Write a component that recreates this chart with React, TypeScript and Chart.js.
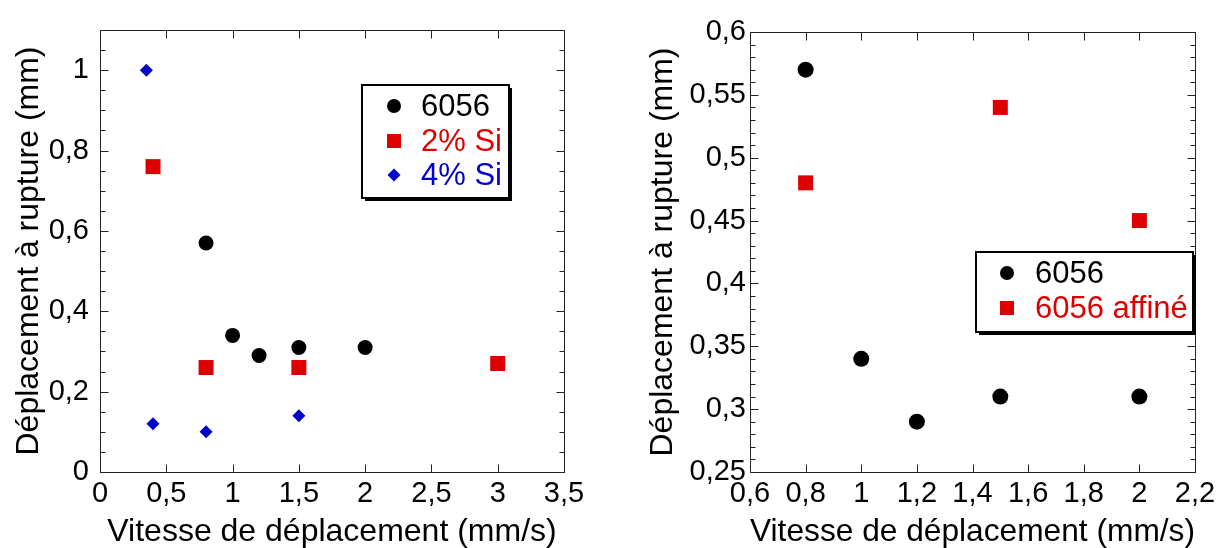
import React, { useEffect, useRef } from 'react';
import { Chart, registerables } from 'chart.js';

Chart.register(...registerables);

const FONT = "'Liberation Sans', Arial, Helvetica, sans-serif";
const RED = '#dd0000';
const BLUE = '#0000cc';
const BLACK = '#000000';
const AXIS = '#222222';

// ---------- Left chart data ----------
const left6056X = [0.8, 1, 1.2, 1.5, 2];
const left6056Y = [0.57, 0.34, 0.29, 0.31, 0.31];
const left2SiX = [0.4, 0.8, 1.5, 3];
const left2SiY = [0.76, 0.26, 0.26, 0.27];
const left4SiX = [0.35, 0.4, 0.8, 1.5];
const left4SiY = [1.0, 0.12, 0.1, 0.14];
const leftXTicks = [0, 0.5, 1, 1.5, 2, 2.5, 3, 3.5];
const leftYTicks = [0, 0.2, 0.4, 0.6, 0.8, 1];

// ---------- Right chart data ----------
const right6056X = [0.8, 1, 1.2, 1.5, 2];
const right6056Y = [0.57, 0.34, 0.29, 0.31, 0.31];
const rightAffineX = [0.8, 1.5, 2];
const rightAffineY = [0.48, 0.54, 0.45];
const rightXTicks = [0.6, 0.8, 1, 1.2, 1.4, 1.6, 1.8, 2, 2.2];
const rightYTicks = [0.25, 0.3, 0.35, 0.4, 0.45, 0.5, 0.55, 0.6];

const X_TITLE = 'Vitesse de déplacement (mm/s)';
const Y_TITLE = 'Déplacement à rupture (mm)';

const zip = (xs: number[], ys: number[]) => xs.map((x, i) => ({ x, y: ys[i] }));
const fmt = (v: number) => String(Math.round(v * 1000) / 1000).replace('.', ',');

// Frame + inward ticks (major and minor) on all four sides
const frameTicks = {
  id: 'frameTicks',
  afterDatasetsDraw(chart: any, _args: any, opts: any) {
    const { ctx, chartArea } = chart;
    const { left, right, top, bottom } = chartArea;
    const xs = chart.scales.x;
    const ys = chart.scales.y;
    ctx.save();
    ctx.strokeStyle = AXIS;
    ctx.lineWidth = 1;
    const L = Math.round(left) + 0.5;
    const R = Math.round(right) + 0.5;
    const T = Math.round(top) + 0.5;
    const B = Math.round(bottom) + 0.5;
    ctx.beginPath();
    ctx.rect(L, T, R - L, B - T);
    ctx.stroke();

    const majorLen = 8;
    const minorLen = 5;
    const drawAxisTicks = (scale: any, horizontal: boolean, minorStep: number) => {
      const majors: number[] = scale.ticks.map((t: any) => t.value);
      const values: { v: number; major: boolean }[] = majors.map((v) => ({ v, major: true }));
      if (minorStep > 0) {
        const n = Math.round((scale.max - scale.min) / minorStep);
        for (let i = 0; i <= n; i++) {
          const v = scale.min + i * minorStep;
          if (!majors.some((m) => Math.abs(m - v) < minorStep / 10)) values.push({ v, major: false });
        }
      }
      ctx.beginPath();
      values.forEach(({ v, major }) => {
        const p = Math.round(scale.getPixelForValue(v)) + 0.5;
        const len = major ? majorLen : minorLen;
        if (horizontal) {
          ctx.moveTo(p, B);
          ctx.lineTo(p, B - len);
          ctx.moveTo(p, T);
          ctx.lineTo(p, T + len);
        } else {
          ctx.moveTo(L, p);
          ctx.lineTo(L + len, p);
          ctx.moveTo(R, p);
          ctx.lineTo(R - len, p);
        }
      });
      ctx.stroke();
    };
    drawAxisTicks(xs, true, opts.xMinorStep || 0);
    drawAxisTicks(ys, false, opts.yMinorStep || 0);
    ctx.restore();
  },
};

// Boxed legend with drop shadow, placed inside the plot
const boxLegend = {
  id: 'boxLegend',
  afterDraw(chart: any, _args: any, opts: any) {
    const { ctx } = chart;
    const { x, y, w, h, rows, markerX, textX, fontSize } = opts;
    ctx.save();
    ctx.fillStyle = '#000';
    ctx.fillRect(x + 3, y + 3, w, h);
    ctx.fillStyle = '#fff';
    ctx.fillRect(x, y, w, h);
    ctx.strokeStyle = '#000';
    ctx.lineWidth = 2;
    ctx.strokeRect(x, y, w, h);
    chart.data.datasets.forEach((ds: any, i: number) => {
      const cy = rows[i];
      ctx.fillStyle = ds.backgroundColor;
      ctx.beginPath();
      if (ds.pointStyle === 'circle') {
        ctx.arc(markerX, cy, 7, 0, Math.PI * 2);
      } else if (ds.pointStyle === 'rect') {
        ctx.rect(markerX - 7, cy - 7, 14, 14);
      } else {
        ctx.moveTo(markerX - 6.5, cy);
        ctx.lineTo(markerX, cy - 6.5);
        ctx.lineTo(markerX + 6.5, cy);
        ctx.lineTo(markerX, cy + 6.5);
        ctx.closePath();
      }
      ctx.fill();
      ctx.font = `${fontSize}px ${FONT}`;
      ctx.textBaseline = 'middle';
      ctx.textAlign = 'left';
      ctx.fillText(ds.label, textX, cy + 1);
    });
    ctx.restore();
  },
};

const tickFont = { family: FONT, size: 29 };
const titleFont = { family: FONT, size: 32, lineHeight: 1 };

function makeScales(o: {
  xMin: number; xMax: number; yMin: number; yMax: number;
  xTicks: number[]; yTicks: number[]; yWidth: number; yPad: number; yTitlePad: number;
}) {
  return {
    x: {
      type: 'linear',
      min: o.xMin,
      max: o.xMax,
      afterBuildTicks: (s: any) => { s.ticks = o.xTicks.map((v) => ({ value: v })); },
      afterFit: (s: any) => { s.height = 76; },
      grid: { display: false, drawTicks: false },
      border: { display: false },
      ticks: { font: tickFont, color: '#000', padding: 5, maxRotation: 0, autoSkip: false, callback: (v: any) => fmt(Number(v)) },
      title: { display: true, text: X_TITLE, font: titleFont, color: '#000', padding: { top: 0, bottom: 0 } },
    },
    y: {
      type: 'linear',
      min: o.yMin,
      max: o.yMax,
      afterBuildTicks: (s: any) => { s.ticks = o.yTicks.map((v) => ({ value: v })); },
      afterFit: (s: any) => { s.width = o.yWidth; },
      grid: { display: false, drawTicks: false },
      border: { display: false },
      ticks: { font: tickFont, color: '#000', padding: o.yPad, autoSkip: false, callback: (v: any) => fmt(Number(v)) },
      title: { display: true, text: Y_TITLE, font: titleFont, color: '#000', padding: { top: o.yTitlePad, bottom: 0 } },
    },
  };
}

const leftConfig = (): any => ({
  type: 'scatter',
  data: {
    datasets: [
      { label: '6056', data: zip(left6056X, left6056Y), pointStyle: 'circle', pointRadius: 7.5, backgroundColor: BLACK, borderWidth: 0 },
      { label: '2% Si', data: zip(left2SiX, left2SiY), pointStyle: 'rect', pointRadius: 10.6, backgroundColor: RED, borderWidth: 0 },
      { label: '4% Si', data: zip(left4SiX, left4SiY), pointStyle: 'rectRot', pointRadius: 6.5, backgroundColor: BLUE, borderWidth: 0 },
    ],
  },
  options: {
    animation: false,
    responsive: false,
    layout: { padding: { left: 0, right: 46, top: 30, bottom: 0 } },
    plugins: {
      legend: { display: false },
      tooltip: { enabled: false },
      frameTicks: { yMinorStep: 0.05 },
      boxLegend: { x: 362, y: 85, w: 147, h: 113, rows: [106, 141, 175], markerX: 394, textX: 421, fontSize: 31 },
    },
    scales: makeScales({ xMin: 0, xMax: 3.5, yMin: 0, yMax: 1.1, xTicks: leftXTicks, yTicks: leftYTicks, yWidth: 100, yPad: 11, yTitlePad: 13 }),
  },
  plugins: [frameTicks, boxLegend],
});

const rightConfig = (): any => ({
  type: 'scatter',
  data: {
    datasets: [
      { label: '6056', data: zip(right6056X, right6056Y), pointStyle: 'circle', pointRadius: 8, backgroundColor: BLACK, borderWidth: 0 },
      { label: '6056 affiné', data: zip(rightAffineX, rightAffineY), pointStyle: 'rect', pointRadius: 10.6, backgroundColor: RED, borderWidth: 0 },
    ],
  },
  options: {
    animation: false,
    responsive: false,
    layout: { padding: { left: 0, right: 26, top: 32, bottom: 0 } },
    plugins: {
      legend: { display: false },
      tooltip: { enabled: false },
      frameTicks: { yMinorStep: 0.01 },
      boxLegend: { x: 366, y: 252, w: 217, h: 80, rows: [273, 308], markerX: 397, textX: 425, fontSize: 31 },
    },
    scales: makeScales({ xMin: 0.6, xMax: 2.2, yMin: 0.25, yMax: 0.6, xTicks: rightXTicks, yTicks: rightYTicks, yWidth: 140, yPad: 4, yTitlePad: 37 }),
  },
  plugins: [frameTicks, boxLegend],
});

function ChartCanvas({ makeConfig, width, height }: { makeConfig: () => any; width: number; height: number }) {
  const ref = useRef<HTMLCanvasElement>(null);
  useEffect(() => {
    const chart = new Chart(ref.current as HTMLCanvasElement, makeConfig());
    return () => chart.destroy();
  }, []);
  return <canvas ref={ref} width={width} height={height} style={{ display: 'block', width, height }} />;
}

export default function App() {
  return (
    <div style={{ position: 'fixed', left: 0, top: 0, width: 1221, height: 548, background: '#fff', overflow: 'hidden' }}>
      <div style={{ position: 'absolute', left: 0, top: 0, width: 610, height: 548 }}>
        <ChartCanvas makeConfig={leftConfig} width={610} height={548} />
      </div>
      <div style={{ position: 'absolute', left: 610, top: 0, width: 611, height: 548 }}>
        <ChartCanvas makeConfig={rightConfig} width={611} height={548} />
      </div>
    </div>
  );
}
